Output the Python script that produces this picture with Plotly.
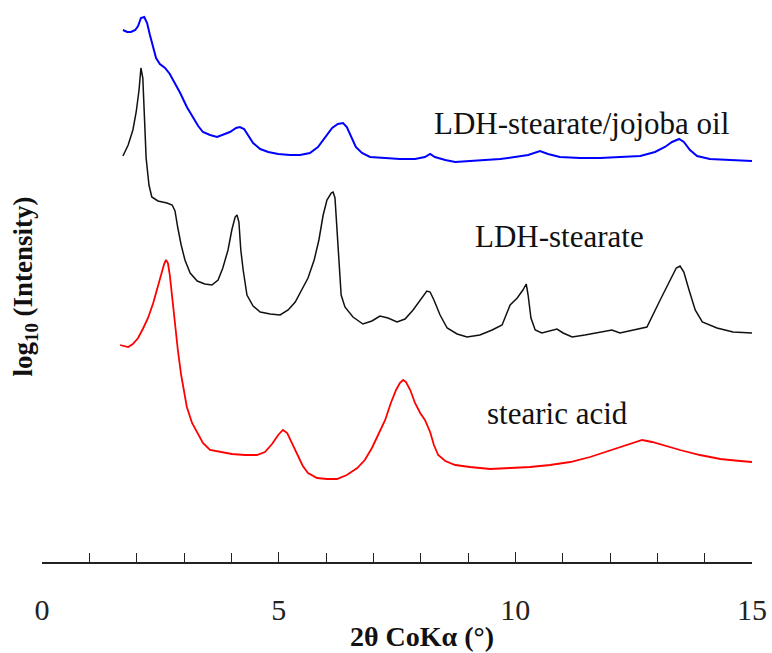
import plotly.graph_objects as go

# 2theta (deg) and log intensity (arbitrary units, traces offset)
blue_x = [1.71, 1.80, 1.88, 1.97, 2.03, 2.09, 2.16, 2.22, 2.28, 2.35, 2.41, 2.49, 2.60, 2.70, 2.81, 2.92, 3.06, 3.19, 3.30, 3.40,
          3.55, 3.70, 3.85, 3.97, 4.10, 4.18, 4.27, 4.35, 4.46, 4.61, 4.78, 4.99, 5.24, 5.45, 5.66, 5.83, 5.98, 6.13, 6.25, 6.36,
          6.44, 6.53, 6.63, 6.76, 6.93, 7.25, 7.56, 7.88, 8.09, 8.20, 8.30, 8.52, 8.73, 9.04, 9.36, 9.68, 9.99, 10.27, 10.52, 10.69,
          10.94, 11.37, 11.79, 12.21, 12.64, 12.95, 13.16, 13.31, 13.46, 13.56, 13.69, 13.84, 14.11, 14.54, 15.0]
blue_y = [532, 530, 530, 532, 536, 544, 545, 539, 527, 515, 504, 498, 494, 488, 479, 469, 455, 445, 436, 430,
          427, 425, 428, 430, 434, 435, 433, 427, 419, 413, 410, 408, 407, 407, 409, 415, 425, 434, 438, 439,
          435, 425, 415, 409, 405, 404, 403, 403, 405, 408, 405, 402, 400, 401, 402, 403, 405, 407, 411, 408,
          405, 404, 404, 405, 406, 410, 415, 420, 423, 420, 412, 406, 403, 402, 401]

black_x = [1.71, 1.82, 1.92, 1.99, 2.05, 2.09, 2.13, 2.16, 2.20, 2.26, 2.32, 2.45, 2.64, 2.75, 2.81, 2.87, 2.94, 3.02, 3.13, 3.28,
           3.44, 3.59, 3.72, 3.82, 3.93, 4.01, 4.08, 4.12, 4.16, 4.20, 4.25, 4.33, 4.46, 4.61, 4.82, 5.03, 5.20, 5.35, 5.49, 5.62,
           5.75, 5.85, 5.94, 6.02, 6.11, 6.15, 6.19, 6.23, 6.28, 6.32, 6.40, 6.57, 6.78, 6.97, 7.14, 7.31, 7.50, 7.67, 7.84, 7.99,
           8.13, 8.20, 8.28, 8.41, 8.56, 8.77, 8.98, 9.25, 9.51, 9.72, 9.89, 10.04, 10.16, 10.23, 10.27, 10.33, 10.42, 10.56, 10.73, 10.88,
           11.01, 11.20, 11.47, 11.79, 12.04, 12.21, 12.47, 12.78, 13.06, 13.27, 13.40, 13.48, 13.56, 13.67, 13.80, 13.95, 14.26, 14.60, 15.0]
black_y = [406, 417, 432, 450, 472, 494, 484, 447, 404, 377, 365, 361, 359, 357, 351, 334, 317, 302, 289, 281,
           278, 277, 282, 294, 312, 332, 345, 347, 340, 312, 292, 267, 256, 250, 248, 247, 252, 260, 272, 284,
           302, 322, 347, 362, 369, 370, 364, 337, 297, 267, 255, 245, 238, 241, 246, 244, 240, 243, 252, 262,
           271, 270, 262, 247, 234, 228, 225, 227, 232, 237, 257, 264, 272, 278, 267, 244, 232, 229, 231, 233,
           229, 225, 227, 230, 232, 229, 232, 235, 262, 282, 294, 296, 290, 272, 252, 240, 234, 230, 229]

red_x = [1.65, 1.73, 1.82, 1.92, 2.03, 2.13, 2.24, 2.35, 2.43, 2.51, 2.58, 2.62, 2.66, 2.70, 2.75, 2.81, 2.87, 2.94, 3.00, 3.06,
         3.17, 3.28, 3.40, 3.55, 3.76, 4.01, 4.29, 4.54, 4.71, 4.86, 4.99, 5.09, 5.18, 5.28, 5.41, 5.51, 5.62, 5.81, 6.02, 6.23,
         6.44, 6.66, 6.82, 6.97, 7.10, 7.25, 7.37, 7.48, 7.56, 7.63, 7.69, 7.78, 7.88, 7.99, 8.09, 8.20, 8.28, 8.37, 8.52, 8.73,
         9.04, 9.47, 9.89, 10.31, 10.73, 11.16, 11.58, 11.90, 12.21, 12.47, 12.68, 12.89, 13.16, 13.48, 13.90, 14.33, 14.75, 15.0]
red_y = [217, 216, 215, 218, 224, 233, 244, 259, 272, 287, 298, 302, 299, 287, 265, 237, 212, 187, 169, 155,
         139, 129, 119, 112, 110, 108, 107, 107, 110, 118, 127, 132, 129, 119, 107, 96, 89, 84, 83, 83,
         87, 94, 102, 114, 127, 142, 159, 172, 179, 182, 180, 172, 159, 149, 142, 130, 117, 107, 101, 97,
         95, 93, 94, 95, 97, 100, 105, 110, 115, 119, 122, 120, 116, 112, 107, 103, 101, 100]

series_names = ["LDH-stearate/jojoba oil", "LDH-stearate", "stearic acid"]
series_colors = ["#0000ff", "#111111", "#ff0000"]
series_widths = [2.0, 1.5, 1.8]
label_x = [11.39, 10.94, 10.90]
label_y = [439, 326, 149]

x_ticks = [0, 5, 10, 15]

FONT = "Liberation Serif, Times New Roman, serif"

fig = go.Figure()
for xs, ys, name, col, w in zip([blue_x, black_x, red_x], [blue_y, black_y, red_y],
                                series_names, series_colors, series_widths):
    fig.add_trace(go.Scatter(x=xs, y=ys, mode="lines", name=name,
                             line=dict(color=col, width=w), showlegend=False))

for name, lx, ly in zip(series_names, label_x, label_y):
    fig.add_annotation(x=lx, y=ly, xref="x", yref="y", text=name, showarrow=False,
                       font=dict(family=FONT, size=31, color="#111111"),
                       xanchor="center", yanchor="middle")

fig.add_annotation(x=-0.024, y=0.49, xref="paper", yref="paper",
                   text="<b>log<sub>10</sub> (Intensity)</b>", textangle=-90,
                   showarrow=False, font=dict(family=FONT, size=27, color="#111111"),
                   xanchor="center", yanchor="middle")
fig.add_annotation(x=0.535, y=-0.133, xref="paper", yref="paper",
                   text="<b>2θ CoKα (°)</b>", showarrow=False,
                   font=dict(family=FONT, size=28, color="#111111"),
                   xanchor="center", yanchor="middle")

fig.update_layout(
    width=772, height=653,
    margin=dict(l=42, r=20, t=0, b=91),
    plot_bgcolor="white", paper_bgcolor="white",
    xaxis=dict(range=[0, 15], tickvals=x_ticks, ticktext=[str(v) for v in x_ticks],
               showgrid=False, zeroline=False, showline=True, linecolor="#222222", linewidth=1.5,
               ticks="inside", ticklen=10, tickwidth=1.2, tickcolor="#222222",
               minor=dict(dtick=1, ticks="inside", ticklen=9, tickwidth=1.2, tickcolor="#222222"),
               tickfont=dict(family=FONT, size=30, color="#222222"),
               ticklabelstandoff=20, automargin=False),
    yaxis=dict(range=[0, 562], visible=False),
)

fig.write_html("out.html", config={"displayModeBar": False},
               post_script="document.body.style.margin='0';document.body.style.overflow='hidden';")
